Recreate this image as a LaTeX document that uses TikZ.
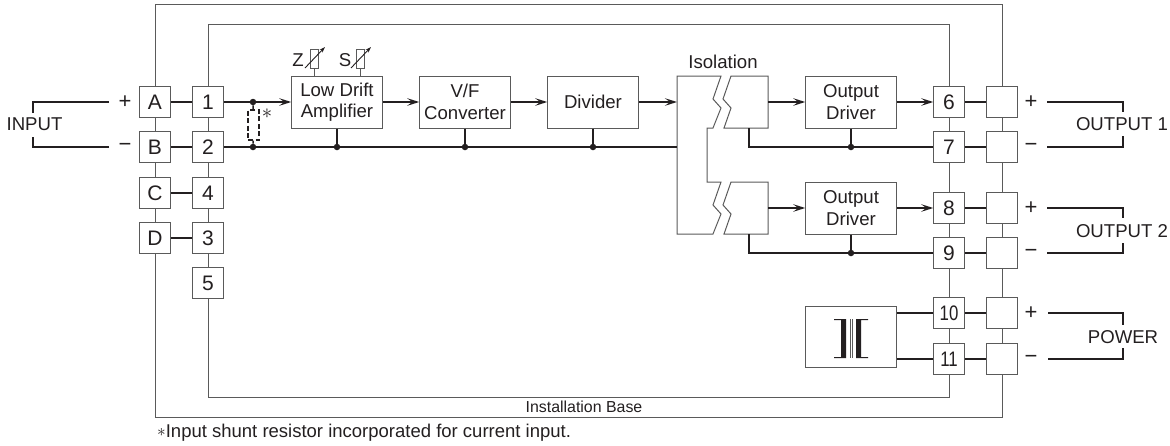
\documentclass[tikz,border=0pt]{standalone}
\usepackage{fontspec}
\usepackage{graphicx}
\setmainfont{Liberation Sans}
\usetikzlibrary{arrows.meta}
\definecolor{ink}{HTML}{231F20}
\definecolor{frameink}{HTML}{5A5A5A}
\begin{document}
\begin{tikzpicture}[x=1pt, y=-1pt, text=ink, font=\fontsize{18.6}{21.5}\selectfont]
	\tikzstyle{terminal} = [rectangle, minimum size=30.5pt, inner sep=0pt, draw=frameink, fill=white, line width=1pt, font=\fontsize{21}{21}\selectfont]
	\tikzstyle{block}    = [rectangle, minimum width=90.5pt, minimum height=52pt, inner sep=0pt, align=center, draw=frameink, fill=white, line width=1pt]
	\tikzstyle{plain}    = [inner sep=0pt]
	\tikzstyle{polarity} = [inner sep=0pt, font=\fontsize{22}{22}\selectfont]
	\tikzstyle{joint}    = [circle, minimum size=6.5pt, inner sep=0pt, fill=ink]
	\tikzstyle{frame}    = [draw=frameink, line width=1pt]
	\tikzstyle{wire}     = [draw=ink, line width=1.6pt]
	\tikzstyle{signal}   = [wire, -{Stealth[length=12pt, width=7.5pt, inset=5pt]}]
	\tikzstyle{thinbox}  = [draw=frameink, line width=1pt]

	\useasboundingbox (0,0) rectangle (1170,445);

	% terminals
	\foreach \name/\text/\x/\y in {tA/A/155/102, tB/B/155/147, tC/C/155/193, tD/D/155/238, t1/1/208/102, t2/2/208/147, t4/4/208/193, t3/3/208/238, t5/5/208/283, t6/6/949/102, t7/7/949/147, t8/8/949/208, t9/9/949/253, t10/{\scalebox{.8}[1]{10}}/949/313, t11/{\scalebox{.8}[1]{11}}/949/359, r6//1002/102, r7//1002/147, r8//1002/208, r9//1002/253, r10//1002/313, r11//1002/359}
		\node[terminal] (\name) at (\x, \y) {\text};

	% blocks
	\foreach \name/\text/\x/\y in {amp/{Low Drift\\Amplifier}/337/102, vf/{V/F\\Converter}/465/102, div/Divider/593/102, drv1/{Output\\Driver}/851/102, drv2/{Output\\Driver}/851/208}
		\node[block] (\name) at (\x, \y) {\text};
	\node[block, minimum height=61pt] (xfmr) at (851, 336.5) {};

	% outer and inner base
	\foreach \name/\x/\y in {oTL/155/4, oTR/1002/4, oBL/155/417, oBR/1002/417, iTL/208/24, iTR/949/24, iBL/208/397, iBR/949/397}
		\coordinate (\name) at (\x, \y);
	\draw[frame] (tA) -- (oTL) -- (oTR) -- (r6);
	\draw[frame] (tD) -- (oBL) -- (oBR) -- (r11);
	\draw[frame] (t1) -- (iTL) -- (iTR) -- (t6);
	\draw[frame] (t5) -- (iBL) -- (iBR) -- (t11);
	\foreach \from/\to in {tA/tB, tB/tC, tC/tD, t1/t2, t2/t4, t4/t3, t3/t5, t6/t7, t7/t8, t8/t9, t9/t10, t10/t11, r6/r7, r7/r8, r8/r9, r9/r10, r10/r11}
		\path[frame] (\from) edge (\to);
	\foreach \from/\to in {tA/t1, tB/t2, tC/t4, tD/t3, t6/r6, t7/r7, t8/r8, t9/r9, t10/r10, t11/r11}
		\path[wire] (\from) edge (\to);

	% isolation
	\draw[thinbox, fill=white] (677,76) -- (721,76) -- (713,99) -- (721,108) -- (713,128) -- (707,128) -- (707,182) -- (721,182) -- (713,205) -- (721,214) -- (713,234) -- (677,234) -- cycle;
	\draw[thinbox, fill=white] (731,76) -- (723,99) -- (731,108) -- (724,128) -- (768,128) -- (768,76) -- cycle;
	\draw[thinbox, fill=white] (731,182) -- (723,205) -- (731,214) -- (724,234) -- (768,234) -- (768,182) -- cycle;
	\foreach \name/\x/\y in {isoA/677/102, isoB/677/147, isoC/768/102, isoD/749/128, isoE/768/208, isoF/749/234, isoG/749/147, isoH/749/253}
		\coordinate (\name) at (\x, \y);

	% joints
	\foreach \name/\x/\y in {j1/253/102, j2/253/147, j3/337/147, j4/465/147, j5/593/147, j6/851/147, j7/851/253}
		\node[joint] (\name) at (\x, \y) {};

	% signal path
	\draw[wire] (t1) -- (j1);
	\draw[signal] (j1) -- (amp);
	\draw[signal] (amp) -- (vf);
	\draw[signal] (vf) -- (div);
	\draw[signal] (div) -- (isoA);
	\draw[signal] (isoC) -- (drv1);
	\draw[signal] (isoE) -- (drv2);
	\draw[signal] (drv1) -- (t6);
	\draw[signal] (drv2) -- (t8);
	\draw[wire] (t2) -- (j2) -- (j3) -- (j4) -- (j5) -- (isoB);
	\foreach \from/\to in {amp/j3, vf/j4, div/j5, drv1/j6, drv2/j7}
		\path[wire] (\from) edge (\to);
	\draw[wire] (isoD) -- (isoG) -- (j6) -- (t7);
	\draw[wire] (isoF) -- (isoH) -- (j7) -- (t9);
	\draw[wire] (xfmr.east |- t10) -- (t10);
	\draw[wire] (xfmr.east |- t11) -- (t11);

	% shunt resistor
	\node[rectangle, minimum width=11pt, minimum height=30pt, inner sep=0pt, draw=ink, dash pattern=on 5pt off 2.5pt, line width=1.4pt] (shunt) at (253.5, 125) {};
	\draw[wire] (j1) -- (shunt);
	\draw[wire] (j2) -- (shunt);
	\node[plain, font=\fontsize{20}{20}\selectfont] (star) at (267, 114) {$*$};

	% zero and span trimmers
	\foreach \name/\text/\x/\y in {z/Z/314/298, s/S/360/345}
	{
		\node[rectangle, minimum width=8pt, minimum height=19pt, inner sep=0pt, draw=frameink, fill=white, line width=1pt] (\name box) at (\x, 58.5) {};
		\node[plain] (\name text) at (\y, 60) {\text};
		\draw[frame] (\name box) -- (\x, 76);
		\draw[draw=ink, line width=0.9pt, -{Stealth[length=6pt, width=4pt]}] (\x-9, 68) -- (\x+11, 47);
	}

	% transformer
	\fill[ink] (834,319) -- (846,319) -- (846,358) -- (834,358) -- (834,357) -- (841,357) -- (841,320) -- (834,320) -- cycle;
	\fill[ink] (868,319) -- (856,319) -- (856,358) -- (868,358) -- (868,357) -- (861,357) -- (861,320) -- (868,320) -- cycle;
	\draw[draw=frameink, line width=0.8pt] (850,319) -- (850,358);
	\draw[draw=frameink, line width=0.8pt] (852.5,319) -- (852.5,358);

	% field connections
	\foreach \name/\text/\x/\y in {pIn/+/125/102, mIn/\textminus/125/147, pOa/+/1031/102, mOa/\textminus/1031/147, pOb/+/1031/208, mOb/\textminus/1031/253, pPw/+/1031/313, mPw/\textminus/1031/359}
		\node[polarity] (\name) at (\x, \y) {\text};
	\node[plain] (input) at (34.5, 124.5) {INPUT};
	\node[plain] (out1) at (1122, 124.5) {OUTPUT 1};
	\node[plain] (out2) at (1122, 231) {OUTPUT 2};
	\node[plain] (power) at (1123, 337) {POWER};
	\foreach \name/\x/\y in {a1/109/102, a2/33/102, a3/33/113, a4/109/147, a5/33/147, a6/33/137, b1/1047/102, b2/1123/102, b3/1123/112, b4/1047/147, b5/1123/147, b6/1123/136, c1/1047/208, c2/1123/208, c3/1123/218, c4/1047/253, c5/1123/253, c6/1123/243, d1/1048/313, d2/1123/313, d3/1123/325, d4/1048/359, d5/1123/359, d6/1123/348}
		\coordinate (\name) at (\x, \y);
	\foreach \one/\two/\three in {a1/a2/a3, a4/a5/a6, b1/b2/b3, b4/b5/b6, c1/c2/c3, c4/c5/c6, d1/d2/d3, d4/d5/d6}
		\draw[wire] (\one) -- (\two) -- (\three);

	% captions
	\node[plain] (isolation) at (723, 62) {Isolation};
	\node[plain, font=\fontsize{15.9}{18}\selectfont] (base) at (584, 407) {Installation Base};
	\node[plain, anchor=west, font=\fontsize{18.5}{20}\selectfont] (note) at (157, 433) {\raisebox{1.5pt}{\fontsize{18}{18}\selectfont$*$}Input shunt resistor incorporated for current input.};
\end{tikzpicture}
\end{document}
